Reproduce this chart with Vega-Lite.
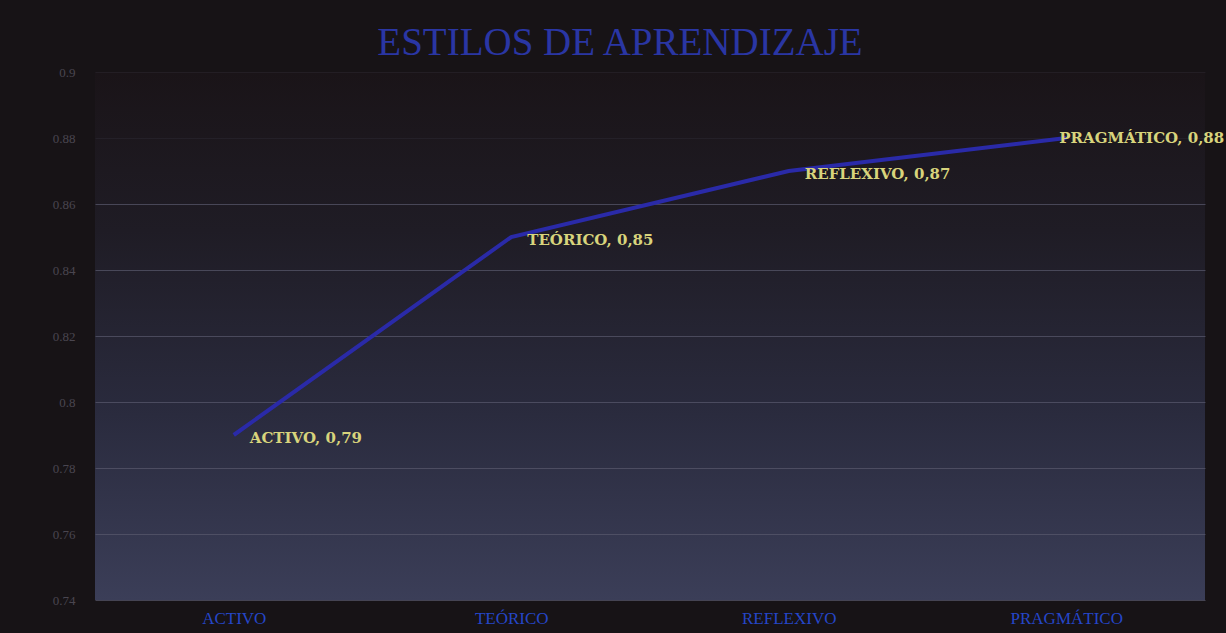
{
  "$schema": "https://vega.github.io/schema/vega-lite/v6.json",
  "width": 1110,
  "height": 528,
  "autosize": {"type": "none"},
  "padding": {"left": 95, "top": 72, "right": 21, "bottom": 33},
  "background": "#171316",
  "title": {
    "text": "ESTILOS DE APRENDIZAJE",
    "font": "Liberation Serif",
    "fontSize": 39,
    "fontWeight": "normal",
    "color": "#2a36a4",
    "anchor": "middle",
    "dx": -30,
    "offset": 3
  },
  "config": {
    "view": {
      "stroke": null,
      "fill": {
        "gradient": "linear",
        "x1": 0, "y1": 0, "x2": 0, "y2": 1,
        "stops": [
          {"offset": 0, "color": "#1a1418"},
          {"offset": 0.3, "color": "#1f1c25"},
          {"offset": 0.65, "color": "#2a2b3e"},
          {"offset": 1, "color": "#3b3e58"}
        ]
      }
    }
  },
  "data": {
    "values": [
      {"estilo": "ACTIVO", "valor": 0.79, "etiqueta": "ACTIVO, 0,79"},
      {"estilo": "TEÓRICO", "valor": 0.85, "etiqueta": "TEÓRICO, 0,85"},
      {"estilo": "REFLEXIVO", "valor": 0.87, "etiqueta": "REFLEXIVO, 0,87"},
      {"estilo": "PRAGMÁTICO", "valor": 0.88, "etiqueta": "PRAGMÁTICO, 0,88"}
    ]
  },
  "encoding": {
    "x": {
      "field": "estilo",
      "type": "nominal",
      "sort": null,
      "scale": {"type": "point", "padding": 0.5},
      "axis": {
        "title": null,
        "labelAngle": 0,
        "labelFont": "Liberation Serif",
        "labelFontSize": 17,
        "labelColor": "#2546c8",
        "labelPadding": 10,
        "domain": false,
        "ticks": false,
        "grid": false
      }
    },
    "y": {
      "field": "valor",
      "type": "quantitative",
      "scale": {"domain": [0.74, 0.9], "nice": false, "zero": false},
      "axis": {
        "title": null,
        "values": [0.74, 0.76, 0.78, 0.8, 0.82, 0.84, 0.86, 0.88, 0.9],
        "format": ".2~f",
        "labelFont": "Liberation Serif",
        "labelFontSize": 13,
        "labelColor": "#4a4650",
        "labelOpacity": {"condition": {"test": "datum.value > 0.845", "value": 0.15}, "value": 1},
        "labelPadding": 20,
        "domain": false,
        "ticks": false,
        "grid": true,
        "gridColor": "#5a5a6e",
        "gridWidth": 1,
        "gridOpacity": {"condition": {"test": "datum.value > 0.87", "value": 0.15}, "value": 0.7}
      }
    }
  },
  "layer": [
    {
      "mark": {"type": "line", "color": "#2a2aa8", "strokeWidth": 4}
    },
    {
      "transform": [{"filter": "datum.estilo !== 'PRAGMÁTICO'"}],
      "mark": {
        "type": "text",
        "align": "left",
        "baseline": "middle",
        "dx": 16,
        "dy": 3,
        "font": "DejaVu Serif",
        "fontSize": 15,
        "fontWeight": "bold",
        "color": "#d8d47c"
      },
      "encoding": {"text": {"field": "etiqueta"}}
    },
    {
      "transform": [{"filter": "datum.estilo === 'PRAGMÁTICO'"}],
      "mark": {
        "type": "text",
        "align": "right",
        "baseline": "middle",
        "dx": 158,
        "dy": 0,
        "font": "DejaVu Serif",
        "fontSize": 15,
        "fontWeight": "bold",
        "color": "#d8d47c"
      },
      "encoding": {"text": {"field": "etiqueta"}}
    }
  ]
}
